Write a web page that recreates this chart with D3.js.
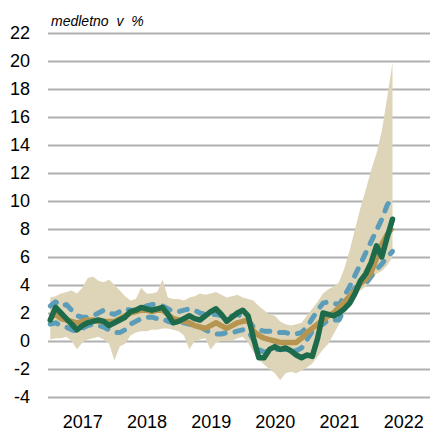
<!DOCTYPE html>
<html>
<head>
<meta charset="utf-8">
<script src="https://cdn.jsdelivr.net/npm/d3@7"></script>
<style>
  html, body { margin: 0; padding: 0; background: #fff; }
  svg { display: block; font-family: 'Liberation Sans', Arial, sans-serif; }
  .grid line { stroke: #b0b0b0; stroke-width: 1.8px; }
  .grid text, .years text { fill: #000; font-size: 18px; }
</style>
</head>
<body>
<div id="chart"></div>
<script>
// monthly values, Jan 2017 .. May 2022
const years = ['2017', '2018', '2019', '2020', '2021', '2022'];
const yTicks = [-4, -2, 0, 2, 4, 6, 8, 10, 12, 14, 16, 18, 20, 22];
const unitLabel = 'medletno v %';

const slovenia = [
  1.5, 2.4, 2.0, 1.6, 1.2, 0.8, 1.1, 1.3, 1.4, 1.5, 1.4, 1.1,
  1.3, 1.5, 1.7, 2.1, 2.2, 2.4, 2.3, 2.2, 2.3, 2.4, 1.9, 1.3,
  1.4, 1.6, 1.8, 1.6, 1.5, 1.8, 2.1, 2.3, 1.9, 1.4, 1.7, 2.0,
  2.2, 1.8, 0.2, -1.2, -1.2, -0.6, -0.4, -0.6, -0.5, -0.7, -1.0, -1.2,
  -1.0, -1.1, 0.2, 2.0, 1.9, 1.8, 2.0, 2.3, 2.7, 3.4, 4.3, 4.8,
  5.6, 6.8, 6.0, 7.4, 8.7
];
const euroArea = [
  1.7, 1.9, 1.6, 1.5, 1.4, 1.3, 1.4, 1.5, 1.5, 1.4, 1.4, 1.4,
  1.4, 1.6, 1.8, 2.0, 2.1, 2.2, 2.2, 2.1, 2.2, 2.2, 1.9, 1.6,
  1.5, 1.4, 1.3, 1.1, 1.0, 0.9, 1.1, 1.3, 1.1, 0.9, 1.1, 1.3,
  1.4, 1.5, 0.7, 0.4, 0.2, 0.1, 0.0, -0.1, -0.1, -0.1, -0.1, 0.2,
  0.6, 0.9, 1.2, 1.5, 1.8, 2.0, 2.4, 2.8, 3.2, 3.6, 4.1, 4.4,
  4.9, 5.9, 6.9, 7.6, 8.1
];
const upperQuartile = [
  2.5, 2.8, 2.5, 2.6, 2.2, 1.8, 1.7, 1.7, 1.8, 2.0, 2.2, 2.0,
  1.9, 2.1, 2.3, 2.2, 2.2, 2.4, 2.5, 2.6, 2.6, 2.5, 2.3, 2.1,
  2.1, 2.2, 2.3, 2.2, 2.0, 1.9, 1.9, 1.9, 1.8, 1.7, 1.8, 1.9,
  1.7, 1.5, 1.0, 0.8, 0.7, 0.7, 0.6, 0.6, 0.6, 0.5, 0.5, 0.6,
  1.0, 1.6, 2.2, 2.7, 2.8, 2.7, 2.6, 3.2, 3.9, 4.7, 5.5, 6.3,
  7.1, 7.9, 8.7, 9.7, 10.3
];
const lowerQuartile = [
  1.2, 1.3, 1.1, 1.0, 0.8, 0.7, 0.9, 1.1, 1.2, 1.1, 1.0, 0.8,
  0.6, 0.6, 0.8, 1.2, 1.4, 1.6, 1.7, 1.7, 1.6, 1.6, 1.4, 1.3,
  1.3, 1.3, 1.2, 1.1, 1.0, 0.8, 0.6, 0.5, 0.5, 0.6, 0.6, 0.7,
  0.8, 0.7, 0.1, -0.6, -0.8, -0.7, -0.6, -0.6, -0.6, -0.7, -0.7, -0.5,
  0.1, 0.7, 1.0, 1.2, 1.5, 1.5, 1.5, 2.3, 3.2, 3.8, 4.0, 4.1,
  4.6, 5.1, 5.5, 6.0, 6.4
];
const rangeMax = [
  3.1, 3.2, 3.4, 3.5, 3.6, 3.4, 3.8, 4.5, 4.6, 4.3, 4.2, 4.4,
  4.0, 3.6, 3.2, 2.9, 3.0, 3.8, 3.4, 3.4, 3.5, 4.4, 3.1, 3.0,
  3.0, 2.9, 3.1, 3.2, 3.4, 3.3, 3.4, 3.5, 3.3, 3.1, 3.2, 3.3,
  3.1, 3.0, 2.9, 2.5, 2.2, 1.9, 1.8, 1.4, 1.2, 1.1, 1.2, 1.3,
  1.8, 2.3, 2.8, 3.4, 3.7, 3.9, 4.2, 5.2, 6.5, 8.0, 9.5, 10.8,
  12.2, 13.4, 15.0, 17.4, 19.9
];
const rangeMin = [
  0.1, 0.2, 0.2, 0.3, 0.0, -0.6, -0.1, 0.1, 0.2, 0.3, 0.1, -0.2,
  -1.4, -0.4, -0.2, 0.4, 0.6, 0.7, 0.7, 0.8, 0.8, 0.9, 0.9, 0.8,
  0.7, 0.4, -0.6, 0.0, 0.1, 0.2, -0.6, -0.1, 0.0, 0.0, 0.0, 0.2,
  0.3, -0.1, -0.8, -1.3, -1.7, -2.0, -2.3, -2.8, -2.3, -2.2, -2.3, -2.1,
  -1.9, -1.6, -1.1, -0.6, -0.2, 0.5, 1.2, 2.1, 3.0, 3.3, 3.6, 3.9,
  4.3, 4.8, 5.0, 5.4, 6.0
];

const width = 430;
const height = 432;
const margin = { top: 33, right: 0, bottom: 35, left: 48 };

const svg = d3.select('#chart')
  .append('svg')
  .attr('width', width)
  .attr('height', height);

// month index -> pixel; year labels sit in the middle of each year
const x = d3.scaleLinear().domain([0, slovenia.length - 1]).range([50.25, 392.5]);
const y = d3.scaleLinear().domain([-4, 22]).range([height - margin.bottom, margin.top]);

svg.append('g')
  .attr('class', 'grid')
  .attr('transform', 'translate(' + margin.left + ',0)')
  .call(d3.axisLeft(y)
    .tickValues(yTicks)
    .tickFormat(d => d)
    .tickSizeInner(-(width - margin.left))
    .tickSizeOuter(0)
    .tickPadding(18))
  .call(g => g.select('.domain').remove())
  .call(g => g.selectAll('text').attr('font-family', null).attr('font-size', null));

const idx = d3.range(slovenia.length);

svg.append('path')
  .datum(idx)
  .attr('fill', '#ded5b9')
  .attr('d', d3.area()
    .x(i => x(i))
    .y0(i => y(rangeMin[i]))
    .y1(i => y(rangeMax[i])));

const line = values => d3.line()
  .x((d, i) => x(i))
  .y(d => y(d))(values);

[lowerQuartile, upperQuartile].forEach(values => {
  svg.append('path')
    .attr('d', line(values))
    .attr('fill', 'none')
    .attr('stroke', '#5b9cb9')
    .attr('stroke-width', 5)
    .attr('stroke-linecap', 'round')
    .attr('stroke-linejoin', 'round')
    .attr('stroke-dasharray', '8,10');
});

svg.append('path')
  .attr('d', line(euroArea))
  .attr('fill', 'none')
  .attr('stroke', '#b5954f')
  .attr('stroke-width', 5.5)
  .attr('stroke-linejoin', 'round');

svg.append('path')
  .attr('d', line(slovenia))
  .attr('fill', 'none')
  .attr('stroke', '#1d6b4b')
  .attr('stroke-width', 5.5)
  .attr('stroke-linecap', 'round')
  .attr('stroke-linejoin', 'round');

svg.append('g')
  .attr('class', 'years')
  .attr('transform', 'translate(0,' + (height - 18) + ')')
  .call(d3.axisBottom(x)
    .tickValues(years.map((yr, k) => k * 12 + 6))
    .tickFormat((d, k) => years[k])
    .tickSize(0)
    .tickPadding(0))
  .call(g => g.select('.domain').remove())
  .call(g => g.selectAll('text').attr('font-family', null).attr('font-size', null).attr('dy', '0.8em'));

svg.append('text')
  .attr('x', 51)
  .attr('y', 26)
  .style('font-size', '14px')
  .style('font-style', 'italic')
  .style('word-spacing', '4px')
  .text(unitLabel);
</script>
</body>
</html>
